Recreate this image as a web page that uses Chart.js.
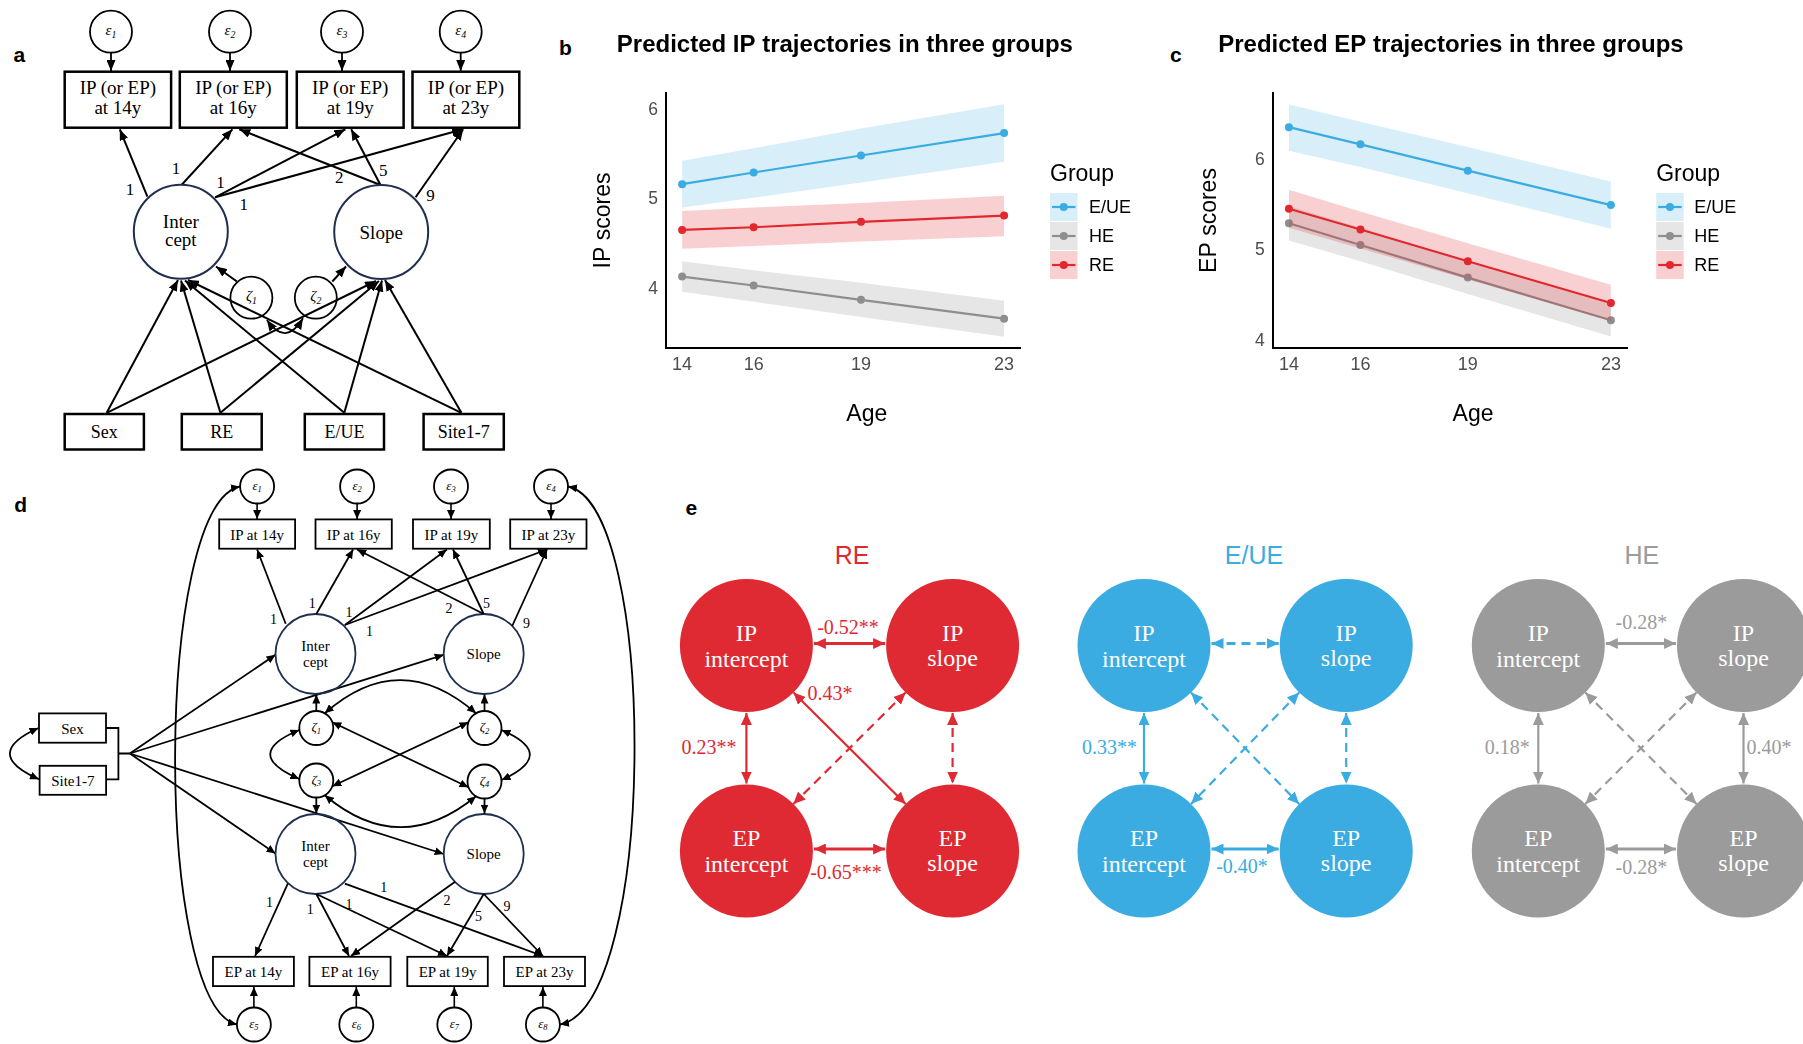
<!DOCTYPE html>
<html>
<head>
<meta charset="utf-8">
<title>Predicted IP / EP trajectories</title>
<script src="https://cdn.jsdelivr.net/npm/chart.js@4.4.1/dist/chart.umd.min.js"></script>
<style>
html,body{margin:0;padding:0;background:#fff;}
#page{position:relative;width:1803px;height:1044px;overflow:hidden;background:#fff;}
#diag{position:absolute;left:0;top:0;}
canvas{position:absolute;}
</style>
</head>
<body>
<div id="page">
<svg id="diag" xmlns="http://www.w3.org/2000/svg" width="1803" height="1044" viewBox="0 0 1803 1044"></svg>
<canvas id="chartB" width="600" height="440" style="left:560px;top:0px;width:600px;height:440px"></canvas>
<canvas id="chartC" width="643" height="440" style="left:1160px;top:0px;width:643px;height:440px"></canvas>
</div>
<script>
// ================= DATA =================
const ages = [14, 16, 19, 23];
const yTickValues = [4, 5, 6];
const groupNames = ['E/UE', 'HE', 'RE'];

// Panel b : predicted IP scores
const ipEUE     = [5.17, 5.30, 5.49, 5.74];
const ipEUELow  = [4.91, 5.02, 5.19, 5.42];
const ipEUEHigh = [5.43, 5.57, 5.79, 6.06];
const ipHE      = [4.14, 4.04, 3.88, 3.67];
const ipHELow   = [3.97, 3.86, 3.69, 3.47];
const ipHEHigh  = [4.31, 4.21, 4.07, 3.87];
const ipRE      = [4.66, 4.69, 4.75, 4.82];
const ipRELow   = [4.45, 4.48, 4.53, 4.59];
const ipREHigh  = [4.87, 4.91, 4.96, 5.04];

// Panel c : predicted EP scores
const epEUE     = [6.36, 6.17, 5.88, 5.50];
const epEUELow  = [6.10, 5.92, 5.63, 5.24];
const epEUEHigh = [6.61, 6.42, 6.14, 5.76];
const epHE      = [5.30, 5.06, 4.70, 4.23];
const epHELow   = [5.11, 4.88, 4.52, 4.05];
const epHEHigh  = [5.49, 5.25, 4.88, 4.41];
const epRE      = [5.46, 5.23, 4.88, 4.42];
const epRELow   = [5.25, 5.02, 4.68, 4.22];
const epREHigh  = [5.67, 5.43, 5.08, 4.62];

// Panel e : correlations (labels)
const reCorr  = ['-0.52**', '-0.65***', '0.23**', '0.43*'];
const eueCorr = ['-0.40*', '0.33**'];
const heCorr  = ['-0.28*', '-0.28*', '0.18*', '0.40*'];

// ================= STYLE =================
const SANS = '"Liberation Sans", Arial, Helvetica, sans-serif';
const SERIF = '"Liberation Serif", "Times New Roman", serif';
const lineColors = ['#3aace2', '#8e8e8e', '#e2282f'];
const bandColors = ['rgba(58,172,226,0.2)', 'rgba(142,142,142,0.22)', 'rgba(226,40,47,0.22)'];

// ================= CHARTS b, c =================
const annot = {
  id: 'annot',
  afterDraw(chart, args, o) {
    const ctx = chart.ctx, ca = chart.chartArea;
    ctx.save();
    ctx.fillStyle = '#000';
    ctx.textAlign = 'left'; ctx.textBaseline = 'alphabetic';
    ctx.font = 'bold 24px ' + SANS;
    ctx.fillText(o.title, o.titleX, o.titleY);
    ctx.font = '23px ' + SANS;
    ctx.textAlign = 'center';
    ctx.fillText(o.xTitle, o.xTitleX, o.xTitleY);
    ctx.save();
    ctx.translate(o.yTitleX, (ca.top + ca.bottom) / 2);
    ctx.rotate(-Math.PI / 2);
    ctx.textBaseline = 'middle';
    ctx.fillText(o.yTitle, 0, 0);
    ctx.restore();
    // legend
    ctx.textAlign = 'left'; ctx.textBaseline = 'alphabetic';
    ctx.font = '23px ' + SANS;
    ctx.fillText('Group', o.legX, o.legTitleY);
    ctx.font = '18px ' + SANS;
    ctx.textBaseline = 'middle';
    for (let g = 0; g < 3; g++) {
      const y0 = o.keyY[g], h = o.keyH, w = o.keyW, cy = y0 + h / 2;
      ctx.fillStyle = bandColors[g];
      ctx.fillRect(o.legX, y0, w, h);
      ctx.strokeStyle = lineColors[g]; ctx.lineWidth = 2.2;
      ctx.beginPath(); ctx.moveTo(o.legX + 2, cy); ctx.lineTo(o.legX + w - 2, cy); ctx.stroke();
      ctx.fillStyle = lineColors[g];
      ctx.beginPath(); ctx.arc(o.legX + w / 2, cy, 4, 0, Math.PI * 2); ctx.fill();
      ctx.fillStyle = '#000';
      ctx.fillText(groupNames[g], o.labelX, cy + 1);
    }
    ctx.restore();
  }
};

function makeChart(id, mids, lows, highs, yMin, yMax, cfg) {
  const datasets = [];
  let ord = 20;
  for (let g = 0; g < 3; g++) {
    const lowIndex = datasets.length;
    datasets.push({
      label: groupNames[g] + ' lower', data: ages.map((a, i) => ({x: a, y: lows[g][i]})),
      borderColor: 'rgba(0,0,0,0)', borderWidth: 1, pointRadius: 0, pointHoverRadius: 0,
      fill: false, order: ord--
    });
    datasets.push({
      label: groupNames[g] + ' upper', data: ages.map((a, i) => ({x: a, y: highs[g][i]})),
      borderColor: 'rgba(0,0,0,0)', borderWidth: 1, pointRadius: 0, pointHoverRadius: 0,
      backgroundColor: bandColors[g], fill: {target: lowIndex}, order: ord--
    });
    datasets.push({
      label: groupNames[g], data: ages.map((a, i) => ({x: a, y: mids[g][i]})),
      borderColor: lineColors[g], backgroundColor: lineColors[g], borderWidth: 2.2,
      pointRadius: 4, pointBackgroundColor: lineColors[g], pointBorderWidth: 0,
      fill: false, tension: 0, order: ord--
    });
  }
  return new Chart(document.getElementById(id), {
    type: 'line',
    data: {datasets},
    options: {
      responsive: false, animation: false, devicePixelRatio: 1, events: [],
      layout: {padding: {left: 0, top: cfg.top, right: cfg.padRight, bottom: cfg.padBottom}},
      scales: {
        x: {
          type: 'linear', min: 13.55, max: 23.45,
          grid: {display: false, drawTicks: false},
          border: {display: true, color: '#000', width: 2},
          ticks: {color: '#4d4d4d', font: {family: SANS, size: 18}, padding: 6, autoSkip: false, maxRotation: 0},
          afterBuildTicks: s => { s.ticks = ages.map(v => ({value: v})); },
          afterFit: s => { s.height = 40; }
        },
        y: {
          type: 'linear', min: yMin, max: yMax,
          grid: {display: false, drawTicks: false},
          border: {display: true, color: '#000', width: 2},
          ticks: {color: '#4d4d4d', font: {family: SANS, size: 17.5}, padding: 8},
          afterBuildTicks: s => { s.ticks = yTickValues.map(v => ({value: v})); },
          afterFit: s => { s.width = cfg.left; }
        }
      },
      plugins: {legend: {display: false}, tooltip: {enabled: false}, annot: cfg.annot}
    },
    plugins: [annot]
  });
}

makeChart('chartB', [ipEUE, ipHE, ipRE], [ipEUELow, ipHELow, ipRELow], [ipEUEHigh, ipHEHigh, ipREHigh], 3.34, 6.19, {
  left: 106, top: 92.7, padRight: 139.8, padBottom: 51.7,
  annot: {title: 'Predicted IP trajectories in three groups', titleX: 56.8, titleY: 52,
    xTitle: 'Age', xTitleX: 306.8, xTitleY: 421, yTitle: 'IP scores', yTitleX: 44,
    legX: 490, legTitleY: 181, keyY: [193, 222, 251], keyH: 28, keyW: 27.5, labelX: 529}
});
makeChart('chartC', [epEUE, epHE, epRE], [epEUELow, epHELow, epRELow], [epEUEHigh, epHEHigh, epREHigh], 3.92, 6.74, {
  left: 112.8, top: 92.7, padRight: 176, padBottom: 51.7,
  annot: {title: 'Predicted EP trajectories in three groups', titleX: 58.2, titleY: 52,
    xTitle: 'Age', xTitleX: 313, xTitleY: 421, yTitle: 'EP scores', yTitleX: 50,
    legX: 496.2, legTitleY: 181, keyY: [193, 222, 251], keyH: 28, keyW: 27.5, labelX: 534.3}
});

// ================= DIAGRAMS (SVG) =================
const S = document.getElementById('diag');
const NS = 'http://www.w3.org/2000/svg';
function E(tag, at, p) { const e = document.createElementNS(NS, tag); for (const k in at) e.setAttribute(k, at[k]); (p || S).appendChild(e); return e; }
function T(x, y, s, at, p) { const t = E('text', Object.assign({x: x, y: y}, at), p); t.textContent = s; return t; }
const defs = E('defs', {});
function mk(id, col, L, W) {
  const m = E('marker', {id: id, viewBox: '0 0 ' + L + ' ' + W, refX: L, refY: W / 2, markerWidth: L, markerHeight: W, markerUnits: 'userSpaceOnUse', orient: 'auto-start-reverse'}, defs);
  E('path', {d: 'M0,0L' + L + ',' + (W / 2) + 'L0,' + W + 'Z', fill: col}, m);
}
mk('ka', '#000', 11, 9); mk('kd', '#000', 9, 8);
mk('kr', '#df2a33', 12, 11); mk('kb', '#3aace2', 12, 11); mk('kg', '#9b9b9b', 12, 11);
function arrow(x1, y1, x2, y2, m, w, col, both, dash) {
  const at = {x1: x1, y1: y1, x2: x2, y2: y2, stroke: col || '#000', 'stroke-width': w || 1.8, 'marker-end': 'url(#' + m + ')'};
  if (both) at['marker-start'] = 'url(#' + m + ')';
  if (dash) at['stroke-dasharray'] = dash;
  return E('line', at);
}
function curve(d, m, w) { return E('path', {d: d, fill: 'none', stroke: '#000', 'stroke-width': w || 1.8, 'marker-start': 'url(#' + m + ')', 'marker-end': 'url(#' + m + ')'}); }
function eps(cx, cy, r, sym, sub, fs, fill) {
  E('circle', {cx: cx, cy: cy, r: r, fill: fill || 'none', stroke: '#000', 'stroke-width': 1.8});
  const t = E('text', {x: cx, y: cy + fs * 0.25, 'text-anchor': 'middle', 'font-family': SERIF, 'font-style': 'italic', 'font-size': fs});
  t.appendChild(document.createTextNode(sym));
  const ts = E('tspan', {'font-size': fs * 0.65, dy: fs * 0.2}, t);
  ts.textContent = sub;
}
function label(x, y, s, fs, extra) { return T(x, y, s, Object.assign({'text-anchor': 'middle', 'font-family': SERIF, 'font-size': fs}, extra || {})); }
const NAVY = '#1f2f4f';
const bold = {'font-family': SANS, 'font-weight': 'bold', 'font-size': 21};

// panel letters
T(13.5, 61.5, 'a', bold); T(559, 55, 'b', bold); T(1170, 61.5, 'c', bold);
T(14.3, 512, 'd', bold); T(685.5, 515, 'e', bold);

// ---------- Panel a ----------
const aEpsX = [111, 230, 342, 460.7];
const aBoxes = [[64.7, 171.1], [179.8, 286.8], [296.8, 403.6], [412.5, 519.3]];
const aAges = ['14y', '16y', '19y', '23y'];
for (let i = 0; i < 4; i++) {
  eps(aEpsX[i], 31.7, 21, 'ε', String(i + 1), 15);
  arrow(aEpsX[i], 52.7, aEpsX[i], 71, 'ka', 1.8);
  const x0 = aBoxes[i][0], x1 = aBoxes[i][1], cx = (x0 + x1) / 2;
  E('rect', {x: x0, y: 71.7, width: x1 - x0, height: 56, fill: '#fff', stroke: '#000', 'stroke-width': 2.5});
  label(cx, 94, 'IP (or EP)', 19);
  label(cx, 113.5, 'at ' + aAges[i], 19);
}
const aLoads = [[147.4, 196.7, 119.8, 129.3], [181.5, 185, 232.4, 129.3], [215.2, 197.3, 345.4, 129.3], [215.2, 197.3, 463, 129.3],
  [380.5, 185, 239.3, 129.3], [380.5, 185, 351.2, 129.3], [415.6, 197.3, 463.2, 129.3]];
aLoads.forEach(l => arrow(l[0], l[1], l[2], l[3], 'ka', 2));
[['1', 130, 195], ['1', 176, 174], ['1', 220.4, 187.7], ['1', 243.8, 210], ['2', 339.2, 183.3], ['5', 383.3, 176], ['9', 430.4, 201]]
  .forEach(l => label(l[1], l[2], l[0], 17));
E('circle', {cx: 180.8, cy: 231.7, r: 47, fill: 'none', stroke: NAVY, 'stroke-width': 2});
label(180.8, 228.3, 'Inter', 19); label(180.8, 246, 'cept', 19);
E('circle', {cx: 381.2, cy: 232, r: 47, fill: 'none', stroke: NAVY, 'stroke-width': 2});
label(381.2, 239, 'Slope', 19);
eps(251.4, 297.7, 21, 'ζ', '1', 15); eps(315.8, 297.7, 21, 'ζ', '2', 15);
arrow(236.9, 281.5, 216, 266.5, 'ka', 2); arrow(332.3, 281.5, 346, 266.5, 'ka', 2);
curve('M266.9,320 Q285.8,347 303,318.3', 'ka', 1.8);
const aBot = [['Sex', 64.7, 143.9], ['RE', 181.8, 261.7], ['E/UE', 304.8, 384], ['Site1-7', 423.6, 503.8]];
const aBotSrc = [106.7, 220.4, 344.3, 461.4];
const aIntEnd = [[178, 280], [181, 280.5], [185, 280.5], [188, 280]];
const aSlpEnd = [[376, 281], [379, 281], [382, 280.5], [385, 280]];
for (let i = 0; i < 4; i++) {
  arrow(aBotSrc[i], 412.8, aIntEnd[i][0], aIntEnd[i][1], 'ka', 2);
  arrow(aBotSrc[i], 412.8, aSlpEnd[i][0], aSlpEnd[i][1], 'ka', 2);
}
aBot.forEach(b => {
  E('rect', {x: b[1], y: 414, width: b[2] - b[1], height: 35.5, fill: '#fff', stroke: '#000', 'stroke-width': 2.5});
  label((b[1] + b[2]) / 2, 437.5, b[0], 18);
});

// ---------- Panel d ----------
const dEpsTopX = [257.1, 357.1, 451, 551];
const dIPBox = [[219.2, 295.1], [315.5, 391.8], [413, 489.8], [510.2, 586.5]];
const dEPBox = [[213, 293.9], [309.4, 390.6], [407.3, 487.8], [504, 585]];
const dEpsBotX = [253.9, 356.3, 454.3, 542.9];
for (let i = 0; i < 4; i++) {
  eps(dEpsTopX[i], 486.5, 17, 'ε', String(i + 1), 13, '#fff');
  arrow(dEpsTopX[i], 503.5, dEpsTopX[i], 519, 'kd', 1.6);
  E('rect', {x: dIPBox[i][0], y: 519.4, width: dIPBox[i][1] - dIPBox[i][0], height: 29.3, fill: '#fff', stroke: '#000', 'stroke-width': 1.8});
  label((dIPBox[i][0] + dIPBox[i][1]) / 2, 539.5, 'IP at ' + aAges[i], 15);
  eps(dEpsBotX[i], 1024.5, 17, 'ε', String(i + 5), 13, '#fff');
  arrow(dEpsBotX[i], 1007.5, dEpsBotX[i], 987, 'kd', 1.6);
  E('rect', {x: dEPBox[i][0], y: 956.8, width: dEPBox[i][1] - dEPBox[i][0], height: 29.3, fill: '#fff', stroke: '#000', 'stroke-width': 1.8});
  label((dEPBox[i][0] + dEPBox[i][1]) / 2, 977, 'EP at ' + aAges[i], 15);
}
// big outer covariances
curve('M240,486.5 C154,505 154,1005 236.9,1024.5', 'kd', 1.8);
curve('M568,486.5 C658,505 658,1005 560,1024.5', 'kd', 1.8);
// Sex / Site
E('rect', {x: 39, y: 713.4, width: 67, height: 29.3, fill: '#fff', stroke: '#000', 'stroke-width': 1.8});
label(72.5, 733.5, 'Sex', 15);
E('rect', {x: 39.6, y: 765.8, width: 66.5, height: 29, fill: '#fff', stroke: '#000', 'stroke-width': 1.8});
label(72.8, 785.5, 'Site1-7', 15);
E('path', {d: 'M106,728 H118.4 V779.3 H106 M118.4,753.5 H129.8', fill: 'none', stroke: '#000', 'stroke-width': 1.8});
curve('M38.5,728 Q-19,753.7 39,779.3', 'kd', 1.8);
[[275.5, 654.8], [443.7, 654.8], [275.5, 853.5], [443.7, 854]].forEach(p => arrow(129.8, 753.5, p[0], p[1], 'kd', 1.8));
// latent circles
[[315.5, 654, 'I'], [483.7, 654, 'S'], [315.5, 854, 'I'], [483.7, 854, 'S']].forEach(c => {
  E('circle', {cx: c[0], cy: c[1], r: 40, fill: 'none', stroke: NAVY, 'stroke-width': 1.8});
  if (c[2] === 'I') { label(c[0], c[1] - 3, 'Inter', 15); label(c[0], c[1] + 13, 'cept', 15); }
  else label(c[0], c[1] + 5, 'Slope', 15);
});
// loadings
[[285.7, 623.7, 257.1, 549.5], [316.3, 614, 353.1, 549.5], [344.9, 625, 446.9, 549.5], [344.9, 625, 547, 549.5],
 [483.7, 614, 357.1, 549.5], [483.7, 614, 453, 549.5], [512.2, 626, 547, 549.5],
 [287.8, 883.6, 255.1, 956], [316.3, 894, 349, 956], [316.3, 894, 447, 956], [344.9, 883.6, 542.9, 956],
 [455.1, 881.8, 351, 956], [483.7, 894, 447, 956], [483.7, 894, 542.9, 956]]
  .forEach(l => arrow(l[0], l[1], l[2], l[3], 'kd', 1.8));
[['1', 273.5, 619.3], ['1', 312.2, 602.5], ['1', 349, 612], ['1', 369.4, 631], ['2', 449, 608.4], ['5', 486.5, 602.5], ['9', 526.5, 623],
 ['1', 269.4, 901.9], ['1', 310.2, 909.2], ['1', 349, 903.8], ['1', 383.7, 887.3], ['2', 447, 900], ['5', 478.4, 915.8], ['9', 507, 905.6]]
  .forEach(l => label(l[1], l[2] + 5, l[0], 14));
// disturbances
eps(316.3, 728, 17, 'ζ', '1', 13); eps(484.5, 728, 17, 'ζ', '2', 13);
eps(316.3, 780.5, 17, 'ζ', '3', 13); eps(484.5, 781.5, 17, 'ζ', '4', 13);
arrow(316.3, 711, 316.3, 694.5, 'kd', 1.8); arrow(484.5, 711, 484.5, 694.5, 'kd', 1.8);
arrow(316.3, 797.5, 316.3, 813.5, 'kd', 1.8); arrow(484.5, 798.5, 484.5, 813.5, 'kd', 1.8);
curve('M324.8,713.3 Q400,647 476,713.3', 'kd', 1.8);
curve('M324.8,795.2 Q400,858.6 476,796.2', 'kd', 1.8);
curve('M299.3,730 Q241.2,754 299.3,779', 'kd', 1.8);
curve('M501.5,730 Q558.2,754.5 501.5,780', 'kd', 1.8);
arrow(332.3, 722.2, 468.5, 787.3, 'kd', 1.8, '#000', true);
arrow(468.5, 722.2, 332.3, 786.2, 'kd', 1.8, '#000', true);

// ---------- Panel e ----------
function eGroup(col, m, xs, title, titleX, st, labels) {
  const ys = [645.5, 851], r = 66.5, d = 47, DASH = '9,6';
  const L = (x1, y1, x2, y2, dash, w) => arrow(x1, y1, x2, y2, m, w, col, true, dash ? DASH : null);
  xs.forEach(x => ys.forEach(y => E('circle', {cx: x, cy: y, r: r, fill: col})));
  L(xs[0] + r + 1, ys[0] - 2, xs[1] - r - 1, ys[0] - 2, st.top, 2.8);
  L(xs[0] + r + 1, ys[1] - 2, xs[1] - r - 1, ys[1] - 2, st.bot, 2.8);
  L(xs[0], ys[0] + r + 1, xs[0], ys[1] - r - 1, st.left, 2.2);
  L(xs[1], ys[0] + r + 1, xs[1], ys[1] - r - 1, st.right, 2.2);
  L(xs[0] + d, ys[0] + d, xs[1] - d, ys[1] - d, st.d1, 2.2);
  L(xs[1] - d, ys[0] + d, xs[0] + d, ys[1] - d, st.d2, 2.2);
  const w = {fill: '#fff'};
  label(xs[0], ys[0] - 5, 'IP', 24, w); label(xs[0], ys[0] + 21, 'intercept', 24, w);
  label(xs[1], ys[0] - 5, 'IP', 24, w); label(xs[1], ys[0] + 20, 'slope', 24, w);
  label(xs[0], ys[1] - 5, 'EP', 24, w); label(xs[0], ys[1] + 21, 'intercept', 24, w);
  label(xs[1], ys[1] - 5, 'EP', 24, w); label(xs[1], ys[1] + 20, 'slope', 24, w);
  T(titleX, 564, title, {'text-anchor': 'middle', 'font-family': SANS, 'font-size': 25, fill: col});
  labels.forEach(l => label(l[1], l[2], l[0], 20, {fill: col}));
}
eGroup('#df2a33', 'kr', [746.4, 952.6], 'RE', 852, {top: 0, bot: 0, left: 0, right: 1, d1: 0, d2: 1},
  [[reCorr[0], 848, 633.5], [reCorr[1], 846, 878.5], [reCorr[2], 709, 753.5], [reCorr[3], 830, 700]]);
eGroup('#3aace2', 'kb', [1144, 1346.2], 'E/UE', 1254, {top: 1, bot: 0, left: 0, right: 1, d1: 1, d2: 1},
  [[eueCorr[0], 1242, 873.3], [eueCorr[1], 1109.4, 753.5]]);
eGroup('#9b9b9b', 'kg', [1538.3, 1743.5], 'HE', 1641.8, {top: 0, bot: 0, left: 0, right: 0, d1: 1, d2: 1},
  [[heCorr[0], 1641.4, 628.5], [heCorr[1], 1641.4, 873.5], [heCorr[2], 1507.3, 753.5], [heCorr[3], 1769, 753.5]]);
</script>
</body>
</html>
